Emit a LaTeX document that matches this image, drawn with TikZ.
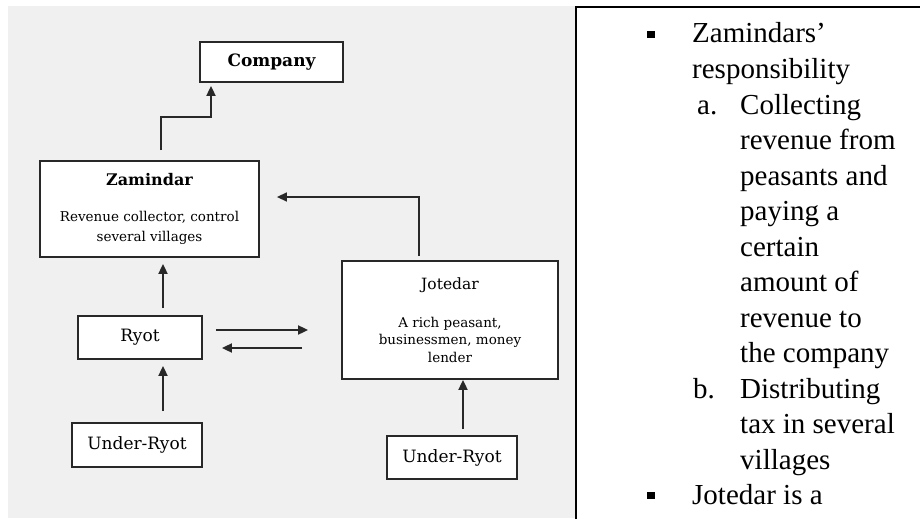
\documentclass[tikz,border=0pt]{standalone}
\usepackage{fontspec}
\setmainfont{Liberation Serif}
\newfontfamily\boxfont{DejaVu Serif}
\usetikzlibrary{arrows.meta,calc}
\definecolor{figline}{RGB}{40,40,40}
\definecolor{figpanel}{RGB}{240,240,240}
\tikzset{
  box/.style  ={draw=figline, line width=1.8pt, fill=white, inner sep=0pt, align=center,
                font=\boxfont\fontsize{17}{20}\selectfont},
  desc/.style ={box, font=\boxfont\fontsize{13.5}{20}\selectfont},
  arr/.style  ={draw=figline, line width=1.8pt, -{Triangle[length=10pt,width=9pt]}},
  rtxt/.style ={anchor=base west, inner sep=0pt, font=\fontsize{29}{34}\selectfont},
}
\begin{document}
\begin{tikzpicture}[x=1pt,y=-1pt]
  \useasboundingbox (0,0) rectangle (920,519);
  % left panel
  \fill[figpanel] (8,6) rectangle (575,518);
  \node[box, minimum width=143pt, minimum height=40pt] (company) at (271.5,62) {\bfseries Company};
  \node[desc, minimum width=219pt, minimum height=96pt] (zamindar) at (149.5,209)
    {{\fontsize{16}{20}\selectfont\bfseries Zamindar}\\[16pt]Revenue collector, control\\several villages};
  \node[box, minimum width=124pt, minimum height=43pt] (ryot) at (140,337.5) {Ryot};
  \node[box, minimum width=130pt, minimum height=44pt] (underL) at (137,445) {Under-Ryot};
  \node[desc, minimum width=216pt, minimum height=118pt, font=\boxfont\fontsize{13.5}{17.5}\selectfont] (jotedar) at (450,320)
    {{\fontsize{15.5}{17.5}\selectfont Jotedar}\\[20.5pt]A rich peasant,\\businessmen, money\\lender};
  \node[box, minimum width=130pt, minimum height=43pt] (underR) at (452,457.5) {Under-Ryot};
  % connectors
  \coordinate (bendC) at (211,117);
  \coordinate (bendJ) at (419,197);
  \draw[arr, shorten <=10pt, shorten >=3pt] ([xshift=11.5pt]zamindar.north) |- (bendC) -- (company.south -| bendC);
  \draw[arr, line width=1.4pt, shorten <=4pt, shorten >=17pt] (jotedar.north -| bendJ) |- (zamindar.east |- bendJ);
  \draw[arr, shorten <=7pt, shorten >=6pt] ([xshift=23pt]ryot.north) -- ([xshift=23pt]ryot.north |- zamindar.south);
  \draw[arr, shorten <=11pt, shorten >=6pt] ([xshift=26pt]underL.north) -- ([xshift=26pt]underL.north |- ryot.south);
  \draw[arr, shorten <=13pt, shorten >=33pt] ([yshift=7.5pt]ryot.east) -- ([yshift=7.5pt]ryot.east -| jotedar.west);
  \draw[arr, shorten <=39pt, shorten >=19pt] ([yshift=-10.5pt]ryot.east -| jotedar.west) -- ([yshift=-10.5pt]ryot.east);
  \draw[arr, shorten <=6pt] ([xshift=11pt]underR.north) -- ([xshift=11pt]underR.north |- jotedar.south);
  % right panel
  \draw[black, line width=1.5pt] (576,519) -- (576,7) -- (920,7);
  \fill[black] (647,31) rectangle (655,38);
  \node[rtxt] (t1) at (692,43) {Zamindars’};
  \node[rtxt] (t2) at (692,78.5) {responsibility};
  \node[rtxt] (t3a) at (697,114) {a.};
  \node[rtxt] (t3) at (740,114) {Collecting};
  \node[rtxt] (t4) at (740,149.5) {revenue from};
  \node[rtxt] (t5) at (740,185) {peasants and};
  \node[rtxt] (t6) at (740,220.5) {paying a};
  \node[rtxt] (t7) at (740,256) {certain};
  \node[rtxt] (t8) at (740,291.5) {amount of};
  \node[rtxt] (t9) at (740,327) {revenue to};
  \node[rtxt] (t10) at (740,362.5) {the company};
  \node[rtxt] (t11b) at (693,398) {b.};
  \node[rtxt] (t11) at (740,398) {Distributing};
  \node[rtxt] (t12) at (740,433.5) {tax in several};
  \node[rtxt] (t13) at (740,469) {villages};
  \fill[black] (647,492) rectangle (655,499);
  \node[rtxt] (t14) at (692,504.5) {Jotedar is a};
\end{tikzpicture}
\end{document}
